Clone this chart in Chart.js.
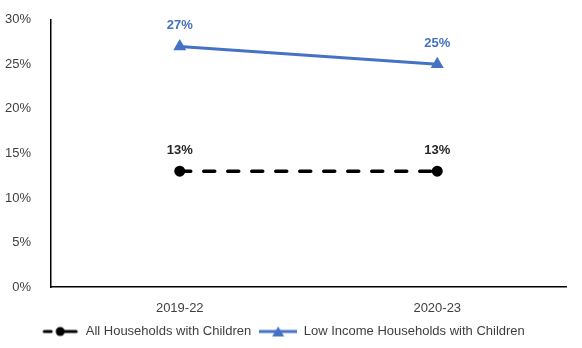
<!DOCTYPE html>
<html>
<head>
<meta charset="utf-8">
<script src="https://cdn.jsdelivr.net/npm/chart.js@4/dist/chart.umd.min.js"></script>
<style>
  html, body { margin: 0; padding: 0; background: #fff; }
  #wrap { width: 582px; height: 348px; }
</style>
</head>
<body>
<div id="wrap"><canvas id="chart"></canvas></div>
<script>
const periods = ['2019-22', '2020-23'];
const allHouseholds = [13, 13];
const lowIncomeHouseholds = [27, 25];
const yTicks = [0, 5, 10, 15, 20, 25, 30];

const BLUE = '#4472C4';
const BLACK = '#000000';
const TEXT = '#404040';

// little line+marker swatches for the legend
function swatch(color, dashed, marker) {
    const c = document.createElement('canvas');
    c.width = 38; c.height = 12;
    const g = c.getContext('2d');
    g.strokeStyle = color;
    g.fillStyle = color;
    g.lineWidth = 3;
    g.beginPath();
    if (dashed) {
        g.lineCap = 'round';
        g.moveTo(3, 6); g.lineTo(10, 6);
        g.moveTo(19, 6); g.lineTo(35, 6);
    } else {
        g.moveTo(0, 6); g.lineTo(38, 6);
    }
    g.stroke();
    g.beginPath();
    if (marker === 'circle') {
        g.arc(19, 6, 4.5, 0, Math.PI * 2);
    } else {
        g.moveTo(19, 1); g.lineTo(25, 11); g.lineTo(13, 11); g.closePath();
    }
    g.fill();
    return c;
}

const valueLabels = {
    id: 'valueLabels',
    afterDatasetsDraw(chart) {
        const ctx = chart.ctx;
        ctx.save();
        ctx.font = 'bold 13px "Liberation Sans", Arial, sans-serif';
        ctx.textAlign = 'center';
        ctx.textBaseline = 'middle';
        chart.data.datasets.forEach((ds, i) => {
            const meta = chart.getDatasetMeta(i);
            ctx.fillStyle = ds.labelColor;
            meta.data.forEach((pt, j) => {
                ctx.fillText(ds.data[j] + '%', pt.x, pt.y - 21);
            });
        });
        ctx.restore();
    }
};

Chart.defaults.font.family = '"Liberation Sans", Arial, sans-serif';
Chart.defaults.font.size = 13;
Chart.defaults.color = TEXT;

new Chart(document.getElementById('chart'), {
    type: 'line',
    data: {
        labels: periods,
        datasets: [
            {
                label: 'All Households with Children',
                data: allHouseholds,
                borderColor: BLACK,
                backgroundColor: BLACK,
                borderWidth: 3.5,
                borderDash: [11, 13],
                borderCapStyle: 'round',
                pointStyle: 'circle',
                pointRadius: 5.5,
                pointBackgroundColor: BLACK,
                pointBorderWidth: 0,
                labelColor: '#262626',
                legendStyle: swatch(BLACK, true, 'circle')
            },
            {
                label: 'Low Income Households with Children',
                data: lowIncomeHouseholds,
                borderColor: BLUE,
                backgroundColor: BLUE,
                borderWidth: 3,
                pointStyle: 'triangle',
                pointRadius: 7.5,
                pointBackgroundColor: BLUE,
                pointBorderWidth: 0,
                labelColor: BLUE,
                legendStyle: swatch(BLUE, false, 'triangle')
            }
        ]
    },
    options: {
        responsive: true,
        maintainAspectRatio: false,
        animation: false,
        layout: { padding: { top: 12, right: 16, left: 0, bottom: 0 } },
        plugins: {
            tooltip: { enabled: false },
            legend: {
                position: 'bottom',
                labels: {
                    usePointStyle: true,
                    pointStyleWidth: 38,
                    padding: 8,
                    color: TEXT,
                    font: { size: 13 },
                    generateLabels(chart) {
                        return chart.data.datasets.map((ds, i) => ({
                            text: ds.label,
                            pointStyle: ds.legendStyle,
                            fillStyle: ds.borderColor,
                            strokeStyle: ds.borderColor,
                            lineWidth: 0,
                            fontColor: TEXT,
                            hidden: false,
                            datasetIndex: i
                        }));
                    }
                }
            }
        },
        scales: {
            x: {
                offset: true,
                grid: { display: false },
                border: { display: true, color: '#000', width: 1.5 },
                ticks: { color: TEXT, padding: 6 },
                afterFit(scale) { scale.height = 30; }
            },
            y: {
                min: 0,
                max: 30,
                afterBuildTicks(scale) {
                    scale.ticks = yTicks.map(v => ({ value: v }));
                },
                afterFit(scale) { scale.width = 51; },
                grid: { display: false },
                border: { display: true, color: '#000', width: 1.5 },
                ticks: { color: TEXT, padding: 12, callback: v => v + '%' }
            }
        }
    },
    plugins: [valueLabels]
});
</script>
</body>
</html>
